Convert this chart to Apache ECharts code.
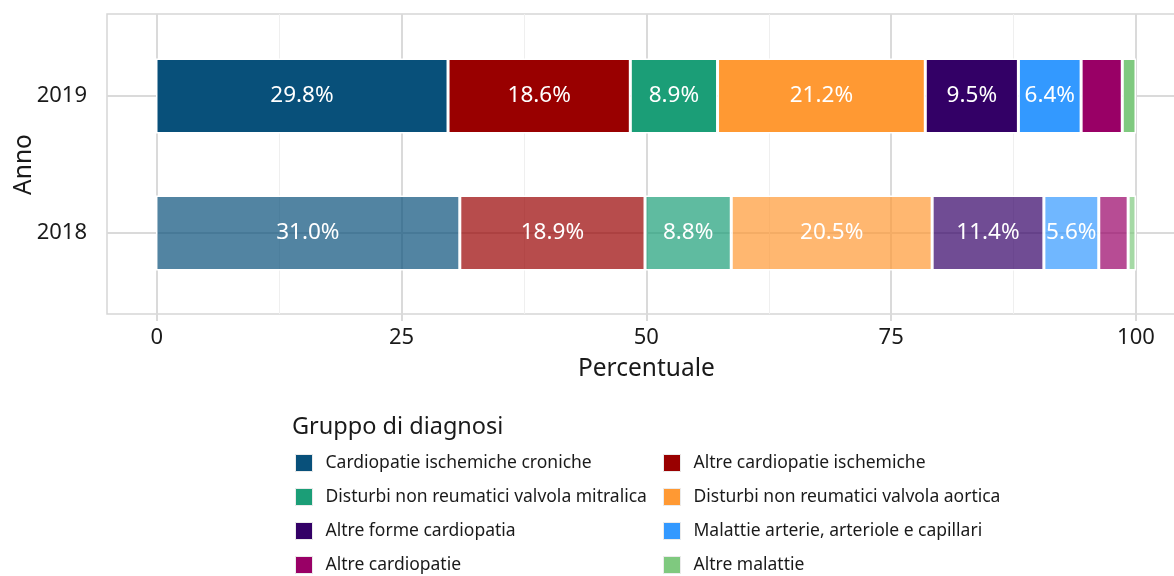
<!DOCTYPE html>
<html>
<head>
<meta charset="utf-8">
<script src="https://cdn.jsdelivr.net/npm/echarts@6/dist/echarts.min.js"></script>
<style>
html,body{margin:0;padding:0;background:#fff;}
#chart{width:1174px;height:576px;}
</style>
</head>
<body>
<div id="chart"></div>
<script>
// ---- data ----
const years = ['2018', '2019'];
const groups = [
  'Cardiopatie ischemiche croniche',
  'Altre cardiopatie ischemiche',
  'Disturbi non reumatici valvola mitralica',
  'Disturbi non reumatici valvola aortica',
  'Altre forme cardiopatia',
  'Malattie arterie, arteriole e capillari',
  'Altre cardiopatie',
  'Altre malattie'
];
const colors = ['#08507a', '#990000', '#1b9e77', '#ff9933', '#330066', '#3399ff', '#990066', '#7fc97f'];
// values per year [2018, 2019]
const cardiopatieIschCroniche = [31.0, 29.8];
const altreCardiopatieIsch = [18.9, 18.6];
const disturbiMitralica = [8.8, 8.9];
const disturbiAortica = [20.5, 21.2];
const altreFormeCardiopatia = [11.4, 9.5];
const malattieArterie = [5.6, 6.4];
const altreCardiopatie = [3.0, 4.2];
const altreMalattie = [0.8, 1.4];
const xTicks = [0, 25, 50, 75, 100];
const yearAlpha = [0.7, 1];

const seriesValues = [cardiopatieIschCroniche, altreCardiopatieIsch, disturbiMitralica, disturbiAortica,
  altreFormeCardiopatia, malattieArterie, altreCardiopatie, altreMalattie];

const FONT = 'Noto Sans';
const TXT = '#1a1a1a';
const GRID = '#dadada';

function withAlpha(hex, a) {
  const r = parseInt(hex.slice(1, 3), 16), g = parseInt(hex.slice(3, 5), 16), b = parseInt(hex.slice(5, 7), 16);
  return 'rgba(' + r + ',' + g + ',' + b + ',' + a + ')';
}

const chart = echarts.init(document.getElementById('chart'), null, {renderer: 'canvas'});

const series = seriesValues.map((vals, i) => ({
  name: groups[i],
  type: 'bar',
  stack: 'tot',
  xAxisIndex: 2,
  yAxisIndex: 2,
  barWidth: 75,
  itemStyle: {color: colors[i], borderColor: '#ffffff', borderWidth: 1.5},
  label: {
    show: true,
    position: 'inside',
    color: '#ffffff',
    fontFamily: FONT,
    fontSize: 22.5,
    formatter: p => (p.value >= 5 ? p.value.toFixed(1) + '%' : '')
  },
  emphasis: {disabled: true},
  data: vals.map((v, j) => ({value: v, itemStyle: {color: withAlpha(colors[i], yearAlpha[j])}}))
}));

const legendCommon = {
  orient: 'vertical',
  top: 449,
  height: 160,
  itemWidth: 17,
  itemHeight: 17,
  itemGap: 16,
  icon: 'rect',
  selectedMode: false,
  itemStyle: {borderColor: '#ebebeb', borderWidth: 1},
  textStyle: {fontFamily: FONT, fontSize: 17.5, color: TXT, padding: [0, 0, 0, 8]}
};

const option = {
  animation: false,
  backgroundColor: '#ffffff',
  color: colors,
  title: {
    text: 'Gruppo di diagnosi',
    left: 287,
    top: 410,
    textStyle: {fontFamily: FONT, fontSize: 23.5, fontWeight: 'normal', color: TXT}
  },
  legend: [
    Object.assign({}, legendCommon, {left: 290, data: [groups[0], groups[2], groups[4], groups[6]]}),
    Object.assign({}, legendCommon, {left: 658, data: [groups[1], groups[3], groups[5], groups[7]]})
  ],
  grid: [
    {left: 107, top: 14, width: 1078, height: 300, outerBoundsMode: 'none', show: true, borderColor: '#d6d6d6', borderWidth: 1.5, backgroundColor: 'transparent'},
    {left: 156.7, top: 14, width: 979.3, height: 300, outerBoundsMode: 'none'},
    {left: 107, top: 96, width: 1078, height: 137, outerBoundsMode: 'none'}
  ],
  xAxis: [
    {gridIndex: 0, type: 'value', min: -5, max: 105, show: false},
    {
      gridIndex: 1, type: 'value', min: 0, max: 100, interval: 25,
      axisLine: {show: false},
      axisTick: {show: true, length: 7, lineStyle: {color: GRID, width: 2}},
      minorTick: {show: false, splitNumber: 2},
      splitLine: {show: true, lineStyle: {color: GRID, width: 2}},
      minorSplitLine: {show: true, lineStyle: {color: '#efefef', width: 1}},
      axisLabel: {fontFamily: FONT, fontSize: 22, color: TXT, margin: 13,
        formatter: v => (xTicks.indexOf(v) >= 0 ? String(v) : '')},
      name: 'Percentuale', nameLocation: 'middle', nameGap: 43, nameMoveOverlap: false,
      nameTextStyle: {fontFamily: FONT, fontSize: 24.5, color: TXT}
    },
    {gridIndex: 2, type: 'value', min: -5, max: 105, show: false}
  ],
  yAxis: [
    {gridIndex: 0, type: 'value', show: false},
    {gridIndex: 1, type: 'value', show: false},
    {
      gridIndex: 2, type: 'category', data: years, boundaryGap: false,
      axisLine: {show: false},
      axisTick: {show: true, length: 7, lineStyle: {color: GRID, width: 2}},
      splitLine: {show: true, lineStyle: {color: GRID, width: 2}},
      axisLabel: {fontFamily: FONT, fontSize: 22, color: TXT, margin: 20},
      name: 'Anno', nameLocation: 'middle', nameGap: 70, nameRotate: 90, nameMoveOverlap: false,
      nameTextStyle: {fontFamily: FONT, fontSize: 24.5, color: TXT}
    }
  ],
  series: series
};

chart.setOption(option);
</script>
</body>
</html>
